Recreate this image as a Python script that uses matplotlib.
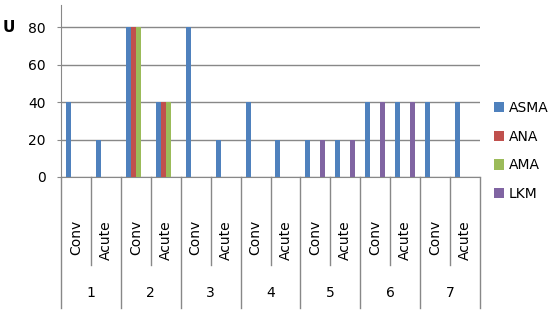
import numpy as np
import matplotlib
matplotlib.use("Agg")
import matplotlib.pyplot as plt
import matplotlib.transforms as mtransforms

groups = ["1", "2", "3", "4", "5", "6", "7"]
subcats = ["Conv", "Acute"]
series = ["ASMA", "ANA", "AMA", "LKM"]
asma = [40, 20, 80, 40, 80, 20, 40, 20, 20, 20, 40, 40, 40, 40]
ana = [0, 0, 80, 40, 0, 0, 0, 0, 0, 0, 0, 0, 0, 0]
ama = [0, 0, 80, 40, 0, 0, 0, 0, 0, 0, 0, 0, 0, 0]
lkm = [0, 0, 0, 0, 0, 0, 0, 0, 20, 20, 40, 40, 0, 0]
colors = ["#4F81BD", "#C0504D", "#9BBB59", "#8064A2"]

plt.rcParams['font.family'] = ['DejaVu Sans']
fig = plt.figure(figsize=(5.5, 3.16), dpi=100)
ax = fig.add_axes([61/550, 1-177/316, 419/550, 172/316])

n = len(asma)
x = np.arange(n)
w = 1/6
for k, (vals, c, name) in enumerate(zip([asma, ana, ama, lkm], colors, series)):
    ax.bar(x + (k-1.5)*w, vals, width=w, color=c, label=name, zorder=3)

ax.set_xlim(-0.5, n-0.5)
ax.set_ylim(0, 92)
ax.set_yticks([0, 20, 40, 60, 80])
ax.yaxis.grid(True, color="#888888", linewidth=1, zorder=0)
ax.tick_params(axis='y', length=3, color="#888888", labelsize=10, pad=8)
ax.set_xticks([])
for s in ["top", "right"]:
    ax.spines[s].set_visible(False)
for s in ["left", "bottom"]:
    ax.spines[s].set_color("#888888")

# category separators below the axis
trans = mtransforms.blended_transform_factory(ax.transData, ax.transAxes)
for i in range(n+1):
    b = i - 0.5
    y1 = -0.762 if i % 2 == 0 else -0.512
    ax.plot([b, b], [0, y1], transform=trans, color="#888888", lw=1, clip_on=False)
for i in range(n):
    ax.text(i, -0.25, subcats[i % 2], transform=trans, rotation=90,
            ha='center', va='top', fontsize=10)
for g, lab in enumerate(groups):
    ax.text(2*g + 0.5, -0.674, lab, transform=trans, ha='center', va='center', fontsize=10)

fig.text(9/550, 1-28/316, "U", fontsize=11, fontweight='bold', ha='center', va='center')

fig.legend(loc='center left', bbox_to_anchor=(487/550, 1-151/316), frameon=False,
           fontsize=10, handlelength=0.75, handleheight=0.75, handletextpad=0.3,
           labelspacing=1.05, borderpad=0)

fig.savefig("out.png", dpi=100)
